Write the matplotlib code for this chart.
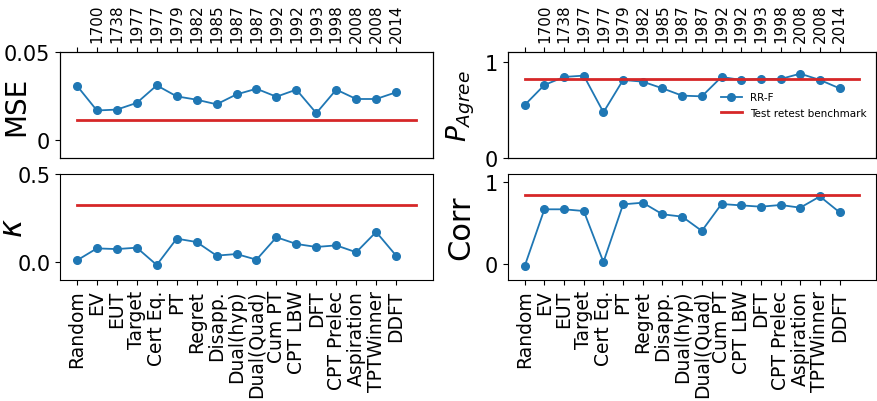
import matplotlib
matplotlib.use("Agg")
import matplotlib.pyplot as plt
import numpy as np

models = ["Random", "EV", "EUT", "Target", "Cert Eq.", "PT", "Regret", "Disapp.",
          "Dual(hyp)", "Dual(Quad)", "Cum PT", "CPT LBW", "DFT", "CPT Prelec",
          "Aspiration", "TPTWinner", "DDFT"]
years = ["", "1700", "1738", "1977", "1977", "1979", "1982", "1985", "1987", "1987",
         "1992", "1992", "1993", "1998", "2008", "2008", "2014"]

mse = [0.0309, 0.0169, 0.0174, 0.0212, 0.0311, 0.0249, 0.0230, 0.0204, 0.0260,
       0.0292, 0.0247, 0.0287, 0.0154, 0.0287, 0.0234, 0.0234, 0.0272]
p_agree = [0.550, 0.758, 0.841, 0.855, 0.474, 0.810, 0.792, 0.723, 0.647, 0.640,
           0.841, 0.810, 0.820, 0.820, 0.875, 0.810, 0.723]
kappa = [0.011, 0.079, 0.075, 0.083, -0.015, 0.134, 0.115, 0.038, 0.047, 0.015,
         0.142, 0.104, 0.087, 0.096, 0.057, 0.172, 0.038]
corr = [-0.028, 0.667, 0.667, 0.646, 0.020, 0.728, 0.748, 0.606, 0.577, 0.402,
        0.732, 0.715, 0.699, 0.720, 0.687, 0.825, 0.630]

# test-retest benchmarks
bench_mse = 0.0116
bench_p = 0.824
bench_kappa = 0.325
bench_corr = 0.846

blue = "#1f77b4"
red = "#d62728"

fig = plt.figure(figsize=(8.77, 4.02), dpi=100)

W, H = 877.0, 402.0
def box(l, r, t, b):
    return [l / W, 1 - b / H, (r - l) / W, (b - t) / H]

ax_mse = fig.add_axes(box(60, 433, 53, 159))
ax_p = fig.add_axes(box(508, 876, 53, 159))
ax_k = fig.add_axes(box(60, 433, 175, 281))
ax_c = fig.add_axes(box(508, 876, 175, 281))

x = np.arange(len(models))
panels = [
    (ax_mse, mse, bench_mse, "MSE", 20, (-0.01, 0.05), [0, 0.05], ["0", "0.05"], -0.08),
    (ax_p, p_agree, bench_p, r"$P_{Agree}$", 19, (0, 1.1), [0, 1], ["0", "1"], -0.084),
    (ax_k, kappa, bench_kappa, r"$\kappa$", 22, (-0.1, 0.5), [0.0, 0.5], ["0.0", "0.5"], -0.086),
    (ax_c, corr, bench_corr, "Corr", 22, (-0.2, 1.1), [0, 1], ["0", "1"], -0.09),
]

for ax, vals, bench, label, lsize, ylim, yt, ytl, lx in panels:
    ax.plot(x, vals, "o-", color=blue, lw=1.3, ms=5.5, label="RR-F")
    ax.plot([x[0], len(models)], [bench, bench], color=red, lw=2,
            label="Test retest benchmark")
    ax.set_ylim(*ylim)
    ax.set_yticks(yt)
    ax.set_yticklabels(ytl, fontsize=15)
    ax.set_ylabel(label, fontsize=lsize)
    ax.yaxis.set_label_coords(lx, 0.5)
    ax.set_xlim(-0.85, len(models) + 0.85)

for ax in (ax_mse, ax_p):
    ax.set_xticks([])
    top = ax.twiny()
    top.set_xlim(ax.get_xlim())
    top.set_xticks(x)
    top.set_xticklabels(years, rotation=90, fontsize=11)

for ax in (ax_k, ax_c):
    ax.set_xticks(x)
    ax.set_xticklabels(models, rotation=90, fontsize=13.5)

ax_p.legend(loc="center right", bbox_to_anchor=(1.0, 0.5), frameon=False,
            fontsize=7.5)

plt.savefig("out.png", dpi=100)
